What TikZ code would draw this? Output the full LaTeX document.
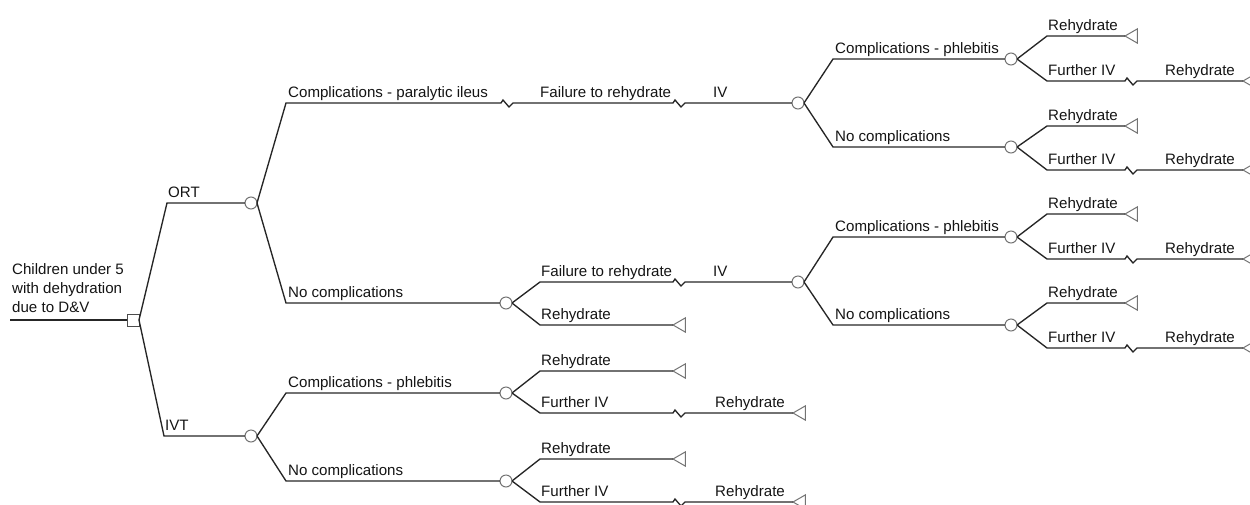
\documentclass[tikz,border=0pt]{standalone}
\usepackage{fontspec}
\setmainfont{Liberation Sans}
\usetikzlibrary{shapes.geometric}
\tikzset{
  edge/.style={draw=black!85, line width=1.35pt, line join=miter},
  chance/.style={circle, draw=black!55, line width=1pt, minimum size=12pt, inner sep=0pt, outer sep=0pt},
  dec/.style={rectangle, draw=black!70, line width=1pt, minimum size=12pt, inner sep=0pt, outer sep=0pt},
  term/.style={regular polygon, regular polygon sides=3, shape border rotate=90, draw=black!55, line width=1pt, minimum size=16.5pt, inner sep=0pt, outer sep=0pt, anchor=corner 1},
  lbl/.style={anchor=base west, inner sep=0pt, font=\fontsize{15.1}{19}\selectfont, text=black!92},
  zig/.style={insert path={-- ++(2,-3) -- ++(6,7) -- ++(4,-4)}}
}
\begin{document}
\begin{tikzpicture}[x=1pt,y=-1pt]
\useasboundingbox (0,0) rectangle (1250,504);
\clip (0,0) rectangle (1250,504);
% root
\coordinate (start) at (10,320);
\node[dec] (d0) at (133,320) {};
\draw[edge] (start) -- (d0.west);
\node[lbl, anchor=north west, align=left] (rootlbl) at (12,263) {Children under 5\\with dehydration\\due to D\&V};
% ORT / IVT
\coordinate (kORT) at (167,203);
\node[chance] (c1) at (251,203) {};
\draw[edge] (d0.east) -- (kORT) -- (c1.west);
\node[lbl] (lORT) at (168,197) {ORT};
\coordinate (kIVT) at (164,436);
\node[chance] (c2) at (251,436) {};
\draw[edge] (d0.east) -- (kIVT) -- (c2.west);
\node[lbl] (lIVT) at (165,430) {IVT};
% ORT -> paralytic ileus
\coordinate (k1) at (286,103);
\coordinate (j1) at (501,103);
\coordinate (j2) at (673,103);
\node[chance] (c3) at (798,103) {};
\draw[edge] (c1.east) -- (k1) -- (j1) [zig] -- (j2) [zig] -- (c3.west);
\node[lbl] (l1) at (288,97) {Complications - paralytic ileus};
\node[lbl] (l2) at (540,97) {Failure to rehydrate};
\node[lbl] (l3) at (713,97) {IV};
% c3 branches
\coordinate (k2) at (833,59);
\node[chance] (c4) at (1011,59) {};
\draw[edge] (c3.east) -- (k2) -- (c4.west);
\node[lbl] (l4) at (835,53) {Complications - phlebitis};
\coordinate (k3) at (833,147);
\node[chance] (c5) at (1011,147) {};
\draw[edge] (c3.east) -- (k3) -- (c5.west);
\node[lbl] (l5) at (835,141) {No complications};
% c4
\coordinate (k4) at (1047,36);
\node[term] (t1) at (1125,36) {};
\draw[edge] (c4.east) -- (k4) -- (t1.corner 1);
\node[lbl] (l6) at (1048,30) {Rehydrate};
\coordinate (k5) at (1047,81);
\coordinate (j3) at (1125,81);
\node[term] (t2) at (1243,81) {};
\draw[edge] (c4.east) -- (k5) -- (j3) [zig] -- (t2.corner 1);
\node[lbl] (l7) at (1048,75) {Further IV};
\node[lbl] (l8) at (1165,75) {Rehydrate};
% c5
\coordinate (k6) at (1047,126);
\node[term] (t3) at (1125,126) {};
\draw[edge] (c5.east) -- (k6) -- (t3.corner 1);
\node[lbl] (l9) at (1048,120) {Rehydrate};
\coordinate (k7) at (1047,170);
\coordinate (j4) at (1125,170);
\node[term] (t4) at (1243,170) {};
\draw[edge] (c5.east) -- (k7) -- (j4) [zig] -- (t4.corner 1);
\node[lbl] (l10) at (1048,164) {Further IV};
\node[lbl] (l11) at (1165,164) {Rehydrate};
% ORT -> No complications
\coordinate (k8) at (286,303);
\node[chance] (c6) at (506,303) {};
\draw[edge] (c1.east) -- (k8) -- (c6.west);
\node[lbl] (l12) at (288,297) {No complications};
\coordinate (k9) at (540,282);
\coordinate (j5) at (673,282);
\node[chance] (c7) at (798,282) {};
\draw[edge] (c6.east) -- (k9) -- (j5) [zig] -- (c7.west);
\node[lbl] (l13) at (541,276) {Failure to rehydrate};
\node[lbl] (l14) at (713,276) {IV};
\coordinate (k10) at (540,325);
\node[term] (t5) at (673,325) {};
\draw[edge] (c6.east) -- (k10) -- (t5.corner 1);
\node[lbl] (l15) at (541,319) {Rehydrate};
% c7 branches
\coordinate (k11) at (833,237);
\node[chance] (c8) at (1011,237) {};
\draw[edge] (c7.east) -- (k11) -- (c8.west);
\node[lbl] (l16) at (835,231) {Complications - phlebitis};
\coordinate (k12) at (833,325);
\node[chance] (c9) at (1011,325) {};
\draw[edge] (c7.east) -- (k12) -- (c9.west);
\node[lbl] (l17) at (835,319) {No complications};
% c8
\coordinate (k13) at (1047,214);
\node[term] (t6) at (1125,214) {};
\draw[edge] (c8.east) -- (k13) -- (t6.corner 1);
\node[lbl] (l18) at (1048,208) {Rehydrate};
\coordinate (k14) at (1047,259);
\coordinate (j6) at (1125,259);
\node[term] (t7) at (1243,259) {};
\draw[edge] (c8.east) -- (k14) -- (j6) [zig] -- (t7.corner 1);
\node[lbl] (l19) at (1048,253) {Further IV};
\node[lbl] (l20) at (1165,253) {Rehydrate};
% c9
\coordinate (k15) at (1047,303);
\node[term] (t8) at (1125,303) {};
\draw[edge] (c9.east) -- (k15) -- (t8.corner 1);
\node[lbl] (l21) at (1048,297) {Rehydrate};
\coordinate (k16) at (1047,348);
\coordinate (j7) at (1125,348);
\node[term] (t9) at (1243,348) {};
\draw[edge] (c9.east) -- (k16) -- (j7) [zig] -- (t9.corner 1);
\node[lbl] (l22) at (1048,342) {Further IV};
\node[lbl] (l23) at (1165,342) {Rehydrate};
% IVT branches
\coordinate (k17) at (286,393);
\node[chance] (c10) at (506,393) {};
\draw[edge] (c2.east) -- (k17) -- (c10.west);
\node[lbl] (l24) at (288,387) {Complications - phlebitis};
\coordinate (k18) at (286,481);
\node[chance] (c11) at (506,481) {};
\draw[edge] (c2.east) -- (k18) -- (c11.west);
\node[lbl] (l25) at (288,475) {No complications};
% c10
\coordinate (k19) at (540,371);
\node[term] (t10) at (673,371) {};
\draw[edge] (c10.east) -- (k19) -- (t10.corner 1);
\node[lbl] (l26) at (541,365) {Rehydrate};
\coordinate (k20) at (540,413);
\coordinate (j8) at (673,413);
\node[term] (t11) at (793,413) {};
\draw[edge] (c10.east) -- (k20) -- (j8) [zig] -- (t11.corner 1);
\node[lbl] (l27) at (541,407) {Further IV};
\node[lbl] (l28) at (715,407) {Rehydrate};
% c11
\coordinate (k21) at (540,459);
\node[term] (t12) at (673,459) {};
\draw[edge] (c11.east) -- (k21) -- (t12.corner 1);
\node[lbl] (l29) at (541,453) {Rehydrate};
\coordinate (k22) at (540,502);
\coordinate (j9) at (673,502);
\node[term] (t13) at (793,502) {};
\draw[edge] (c11.east) -- (k22) -- (j9) [zig] -- (t13.corner 1);
\node[lbl] (l30) at (541,496) {Further IV};
\node[lbl] (l31) at (715,496) {Rehydrate};
\end{tikzpicture}
\end{document}
